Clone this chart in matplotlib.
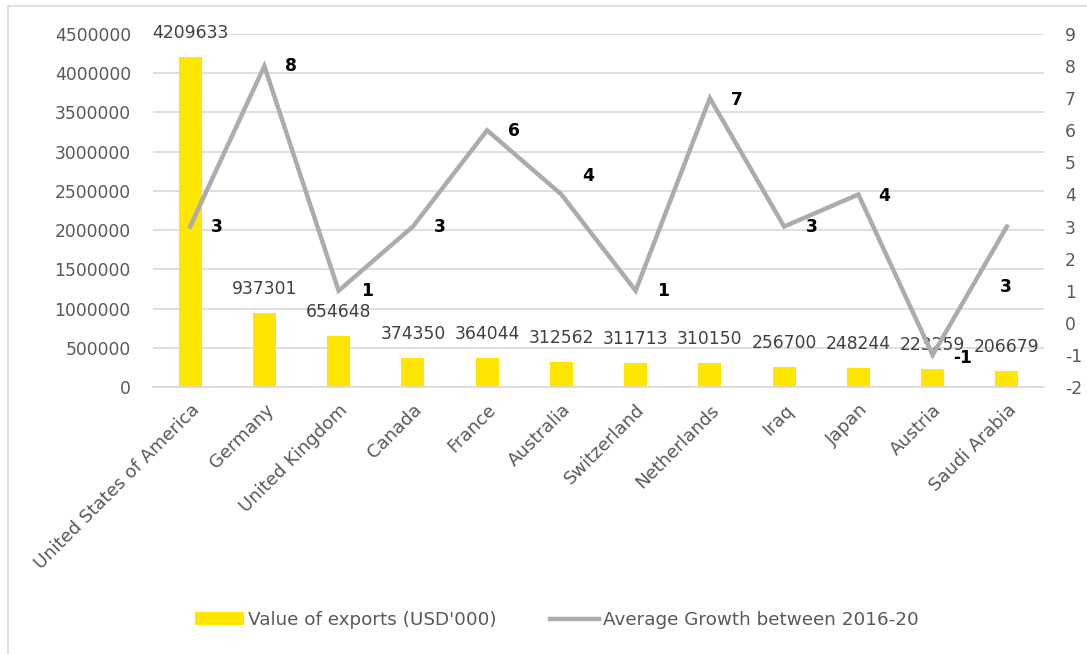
import matplotlib
matplotlib.use("Agg")
import matplotlib.pyplot as plt
from matplotlib.patches import Rectangle
import numpy as np

countries = ["United States of America", "Germany", "United Kingdom", "Canada", "France",
             "Australia", "Switzerland", "Netherlands", "Iraq", "Japan", "Austria", "Saudi Arabia"]
exports = [4209633, 937301, 654648, 374350, 364044, 312562, 311713, 310150, 256700, 248244, 223259, 206679]
growth = [3, 8, 1, 3, 6, 4, 1, 7, 3, 4, -1, 3]
left_ticks = [0, 500000, 1000000, 1500000, 2000000, 2500000, 3000000, 3500000, 4000000, 4500000]
right_ticks = list(range(-2, 10))

# label offsets for growth labels (pixels: dx, dy up)
growth_label_offsets = [(27, 0), (27, 0), (28, 0), (27, 0), (27, -1), (27, 18), (27, 0),
                        (27, -2), (28, 0), (26, -2), (30, -3), (-1, -60)]

plt.rcParams['font.family'] = ['DejaVu Sans']
FS = 12.3
FS_CAT = 13.0
FS_LEG = 13.2
DPI = 100
fig = plt.figure(figsize=(10.87, 6.54), dpi=DPI)
W, H = 1087, 654
ax = fig.add_axes([153 / W, 1 - 387 / H, (1044 - 153) / W, (387 - 34) / H])
ax2 = ax.twinx()

x = np.arange(len(countries))
yellow = "#FFE600"
gray = "#AFABAB"
grid = "#D9D9D9"
tick_col = "#595959"

ax.set_axisbelow(True)
ax.yaxis.grid(True, color=grid, linewidth=1.2)
bars = ax.bar(x, exports, width=0.31, color=yellow, zorder=2, label="Value of exports (USD'000)")
ax.set_xlim(-0.5, len(countries) - 0.5)
ax.set_ylim(0, 4500000)
ax.set_yticks(left_ticks)
ax.set_yticklabels([str(t) for t in left_ticks])
ax.set_xticks(x)
ax.set_xticklabels(countries, rotation=45, ha="right", rotation_mode="anchor", fontsize=FS_CAT)

for v, xi in zip(exports, x):
    ax.annotate(str(v), (xi, v), xytext=(0, 24 * 72 / DPI), textcoords="offset points",
                ha="center", va="center", fontsize=FS, color="#404040", zorder=5)

line, = ax2.plot(x, growth, color=gray, linewidth=3.2, solid_joinstyle="miter",
                 label="Average Growth between 2016-20", zorder=3)
ax2.set_ylim(-2, 9)
ax2.set_yticks(right_ticks)
ax2.set_yticklabels([str(t) for t in right_ticks])

for g, xi, (dx, dy) in zip(growth, x, growth_label_offsets):
    ax2.annotate(str(g), (xi, g), xytext=(dx * 72 / DPI, dy * 72 / DPI), textcoords="offset points",
                 ha="center", va="center", fontsize=FS, fontweight="bold", color="black", zorder=6)

for a in (ax, ax2):
    for s in a.spines.values():
        s.set_visible(False)
    a.tick_params(length=0, colors=tick_col)
ax.tick_params(axis="y", labelsize=FS, pad=16)
ax2.tick_params(axis="y", labelsize=FS, pad=15)
ax.tick_params(axis="x", pad=10)
ax.spines["bottom"].set_visible(True)
ax.spines["bottom"].set_color(grid)
ax.spines["bottom"].set_linewidth(1.2)
for lab in ax2.get_yticklabels():
    lab.set_ha("left")

fs_px = FS_LEG * DPI / 72
leg = fig.legend([bars, line], ["Value of exports (USD'000)", "Average Growth between 2016-20"],
                 loc="center", bbox_to_anchor=(557 / W, 1 - 620 / H), ncol=2, frameon=False,
                 fontsize=FS_LEG, handlelength=49 / fs_px, handleheight=12 / fs_px,
                 handletextpad=4 / fs_px, columnspacing=53 / fs_px, labelcolor=tick_col)

fig.patches.append(Rectangle((8 / W, -0.05), 1.2, 1 - 6 / H + 0.05, transform=fig.transFigure,
                             fill=False, edgecolor=grid, linewidth=1.2))

fig.savefig("out.png", dpi=DPI)
